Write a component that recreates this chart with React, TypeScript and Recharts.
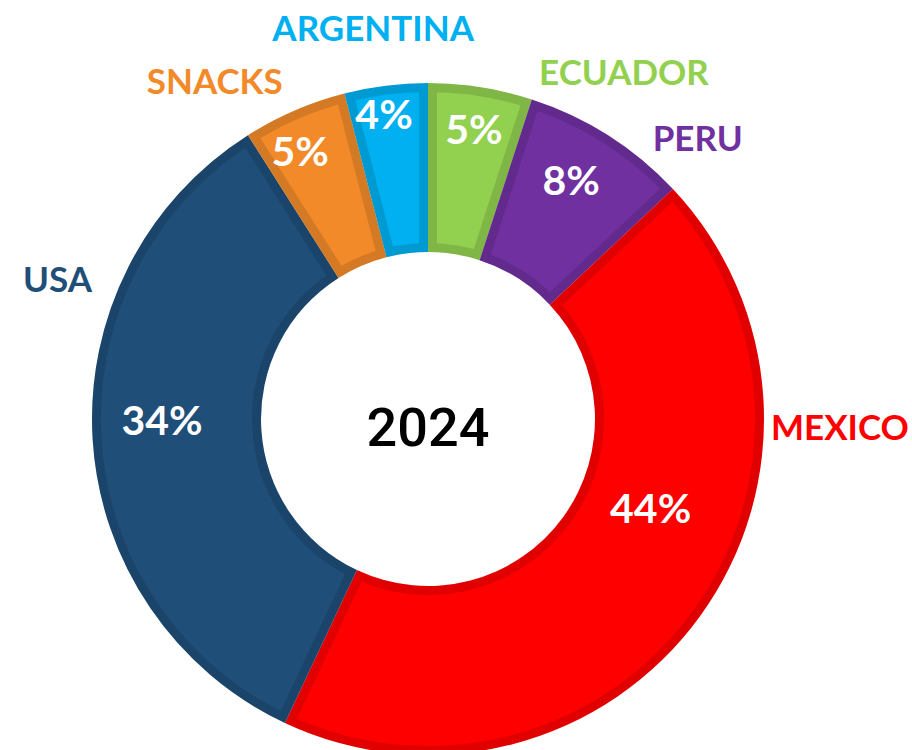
import { PieChart, Pie, Cell, Sector } from 'recharts';

// slices run clockwise from 12 o'clock
const categories = ['ECUADOR', 'PERU', 'MEXICO', 'USA', 'SNACKS', 'ARGENTINA'];
const shares = [5, 8, 44, 34, 5, 4];
const shareLabels = ['5%', '8%', '44%', '34%', '5%', '4%'];
const yearLabel = '2024';

const colors = ['#92D050', '#7030A0', '#FF0000', '#1F4E79', '#F28A2A', '#00B0F0'];

// where the labels sit: degrees turned clockwise from the slice middle, and distance from centre
const nameSpots = [
  { turn: 20.5, r: 398 },
  { turn: 11.5, r: 389 },
  { turn: -34.8, r: 412 },
  { turn: 24.3, r: 396 },
  { turn: -8.9, r: 399 },
  { turn: -0.8, r: 394 },
];
const shareSpots = [
  { turn: 0, r: 293 },
  { turn: -1.4, r: 278 },
  { turn: -14.1, r: 240 },
  { turn: 3.3, r: 266 },
  { turn: -2.1, r: 297 },
  { turn: -1, r: 308 },
];

const data = categories.map((name, i) => ({ name, value: shares[i] }));

const CX = 428;
const CY = 419;
const INNER = 167;
const OUTER = 336;
const BORDER = 9;
const NAME_SIZE = 35;
const SHARE_SIZE = 41;
const RAD = Math.PI / 180;

const renderSliceExtras = (props: any) => {
  const { cx, cy, innerRadius, outerRadius, startAngle, endAngle, midAngle, index } = props;
  const place = (spot: { turn: number; r: number }) => {
    const a = (midAngle - spot.turn) * RAD;
    return { x: cx + spot.r * Math.cos(a), y: cy - spot.r * Math.sin(a) };
  };
  const n = place(nameSpots[index]);
  const s = place(shareSpots[index]);
  const clipId = `slice-clip-${index}`;
  return (
    <g>
      <defs>
        <clipPath id={clipId}>
          <Sector cx={cx} cy={cy} innerRadius={innerRadius} outerRadius={outerRadius}
            startAngle={startAngle} endAngle={endAngle} />
        </clipPath>
      </defs>
      {/* inset darker border */}
      <g clipPath={`url(#${clipId})`}>
        <Sector cx={cx} cy={cy} innerRadius={innerRadius} outerRadius={outerRadius}
          startAngle={startAngle} endAngle={endAngle}
          fill="none" stroke="rgba(0,0,0,0.12)" strokeWidth={BORDER * 2} />
      </g>
      <text x={s.x} y={s.y + SHARE_SIZE * 0.358} textAnchor="middle" fill="#FFFFFF"
        style={{ fontFamily: 'Lato', fontWeight: 700, fontSize: SHARE_SIZE }}>
        {shareLabels[index]}
      </text>
      <text x={n.x} y={n.y + NAME_SIZE * 0.358} textAnchor="middle" fill={colors[index]}
        style={{ fontFamily: 'Lato', fontWeight: 700, fontSize: NAME_SIZE }}>
        {categories[index]}
      </text>
    </g>
  );
};

export default function App() {
  return (
    <div style={{ position: 'absolute', left: 0, top: 0, width: 912, height: 750, background: '#fff' }}>
      <PieChart width={912} height={750} margin={{ top: 0, right: 0, bottom: 0, left: 0 }}>
        <Pie
          data={data}
          dataKey="value"
          nameKey="name"
          cx={CX}
          cy={CY}
          innerRadius={INNER}
          outerRadius={OUTER}
          startAngle={90}
          endAngle={-270}
          stroke="none"
          label={renderSliceExtras}
          labelLine={false}
          isAnimationActive={false}
        >
          {data.map((d, i) => (
            <Cell key={d.name} fill={colors[i]} />
          ))}
        </Pie>
        <text x={CX} y={427 + 54 * 0.358} textAnchor="middle" fill="#000"
          style={{ fontFamily: 'Roboto', fontWeight: 500, fontSize: 54 }}>
          {yearLabel}
        </text>
      </PieChart>
    </div>
  );
}
